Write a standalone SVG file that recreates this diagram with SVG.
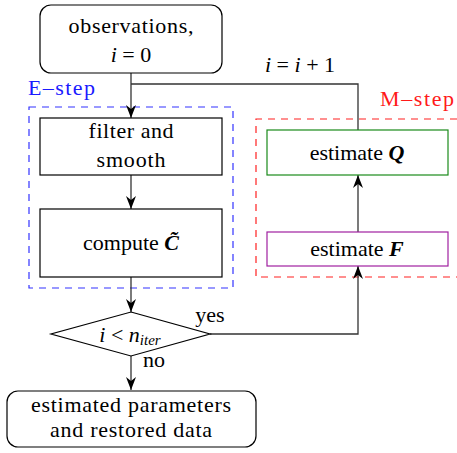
<svg xmlns="http://www.w3.org/2000/svg" width="457" height="453" viewBox="0 0 457 453">
<defs>
<marker id="arr" viewBox="-14 -6 15 12" markerWidth="15" markerHeight="12" refX="0" refY="0" orient="auto" markerUnits="userSpaceOnUse">
<path d="M0,0 L-13,-5 L-9,0 L-13,5 Z" fill="#000"/>
</marker>
</defs>
<rect width="457" height="453" fill="#fff"/>
<g id="estep-group">
<rect x="29" y="107" width="204" height="181" fill="none" stroke="#3333ff" stroke-width="1.2" stroke-dasharray="7 6"/>
<text x="28" y="95" font-family="Liberation Serif" font-size="22" fill="#1a1aff" textLength="67">E–step</text>
</g>
<g id="mstep-group">
<path d="M470,119 H256 V277 H470" fill="none" stroke="#ff2020" stroke-width="1.2" stroke-dasharray="7 6"/>
<text x="380" y="106" font-family="Liberation Serif" font-size="22" fill="#ff1a1a" textLength="74">M–step</text>
</g>
<g id="connectors" fill="none" stroke="#333" stroke-width="1.3">
<path d="M131,73 V118" marker-end="url(#arr)"/>
<path d="M131,84 H358 V130"/>
<path d="M131,175 V209" marker-end="url(#arr)"/>
<path d="M131,277 V312" marker-end="url(#arr)"/>
<path d="M131,356 V390" marker-end="url(#arr)"/>
<path d="M210,334 H358 V266" marker-end="url(#arr)"/>
<path d="M358,232 V175" marker-end="url(#arr)"/>
<text x="300" y="72" fill="#000" stroke="none" font-family="Liberation Serif" font-size="22" text-anchor="middle"><tspan font-style="italic">i</tspan> = <tspan font-style="italic">i</tspan> + 1</text>
<text x="210" y="322" fill="#000" stroke="none" font-family="Liberation Serif" font-size="22" text-anchor="middle">yes</text>
<text x="154" y="367" fill="#000" stroke="none" font-family="Liberation Serif" font-size="22" text-anchor="middle">no</text>
</g>
<g id="observations">
<rect x="40" y="5" width="182" height="68" rx="11" fill="#fff" stroke="#000" stroke-width="1.2"/>
<text x="131" y="33" font-family="Liberation Serif" font-size="22" text-anchor="middle" textLength="125">observations,</text>
<text x="131" y="62" font-family="Liberation Serif" font-size="22" text-anchor="middle"><tspan font-style="italic">i</tspan> = 0</text>
</g>
<g id="filter">
<rect x="40" y="118" width="182" height="57" fill="#fff" stroke="#000" stroke-width="1.2"/>
<text x="131" y="138" font-family="Liberation Serif" font-size="22" text-anchor="middle" textLength="85">filter and</text>
<text x="131" y="167" font-family="Liberation Serif" font-size="22" text-anchor="middle" textLength="69">smooth</text>
</g>
<g id="compute">
<rect x="40" y="209" width="182" height="68" fill="#fff" stroke="#000" stroke-width="1.2"/>
<text x="131" y="250" font-family="Liberation Serif" font-size="22" text-anchor="middle">compute <tspan font-style="italic" font-weight="bold">C̃</tspan></text>
</g>
<g id="estimateQ">
<rect x="267" y="130" width="181" height="45" fill="#fff" stroke="#1a8a1a" stroke-width="1.2"/>
<text x="357" y="160" font-family="Liberation Serif" font-size="22" text-anchor="middle">estimate <tspan font-style="italic" font-weight="bold">Q</tspan></text>
</g>
<g id="estimateF">
<rect x="267" y="232" width="181" height="34" fill="#fff" stroke="#a020a0" stroke-width="1.2"/>
<text x="357" y="256" font-family="Liberation Serif" font-size="22" text-anchor="middle">estimate <tspan font-style="italic" font-weight="bold">F</tspan></text>
</g>
<g id="decision">
<path d="M131,312 L210,334 L131,356 L51,334 Z" fill="#fff" stroke="#000" stroke-width="1.2"/>
<text x="130" y="342" font-family="Liberation Serif" font-size="22" text-anchor="middle"><tspan font-style="italic">i</tspan> &lt; <tspan font-style="italic">n</tspan><tspan font-style="italic" font-size="15" dy="3">iter</tspan></text>
</g>
<g id="result">
<rect x="7" y="391" width="249" height="56" rx="11" fill="#fff" stroke="#000" stroke-width="1.2"/>
<text x="131" y="412" font-family="Liberation Serif" font-size="22" text-anchor="middle" textLength="200">estimated parameters</text>
<text x="131" y="437" font-family="Liberation Serif" font-size="22" text-anchor="middle" textLength="162">and restored data</text>
</g>
</svg>
